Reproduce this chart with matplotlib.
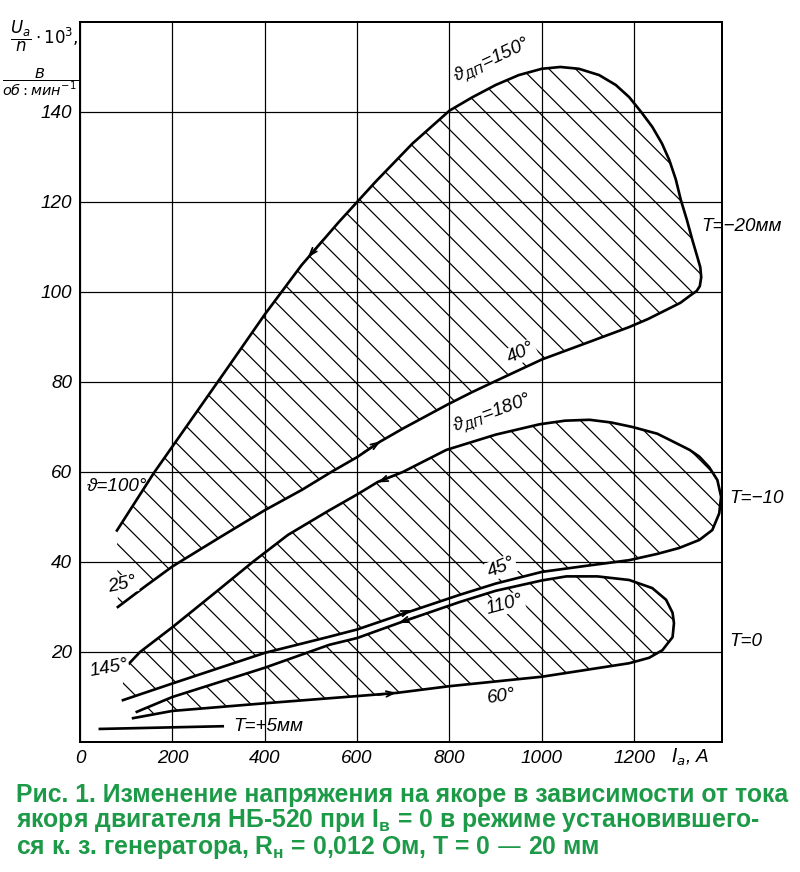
import matplotlib
matplotlib.use('Agg')
import matplotlib.pyplot as plt
from matplotlib import transforms

# кривые (I_a, A ; U_a/n*10^3)
# T = -20 мм: верхняя ветвь (ϑ=100°..150°), нос, нижняя ветвь (40°..25°)
loop20_x = [80, 160, 240, 320, 400, 480, 560, 640, 720, 800, 850, 900, 950, 1000,
            1040, 1080, 1124, 1160, 1189, 1215, 1239, 1260, 1276, 1290, 1301, 1314,
            1326, 1336, 1343, 1345, 1342, 1335, 1325, 1300, 1269, 1230, 1189, 1100,
            1000, 908, 850, 796, 700, 649, 600, 544, 480, 400, 300, 200, 140, 82]
loop20_y = [47, 59.8, 71.5, 83.2, 95, 106, 115.5, 124.5, 133, 140.3, 143.3, 146,
            148.2, 149.6, 150, 149.6, 148.2, 146, 143.3, 140, 136.7, 133, 129.3, 125,
            120.4, 116, 111.5, 108, 105.5, 103.3, 101.3, 100.2, 99.5, 97.6, 96, 94,
            92.2, 88.8, 85, 80.6, 77.8, 75, 69.7, 66.7, 63.3, 60, 56, 51.5, 45.3, 39,
            34.5, 30]
# T = -10: верхняя (180°..145°) и нижняя (45°) ветви
loop10_x = [93, 130, 200, 300, 374, 450, 540, 600, 645, 699, 793, 900, 995, 1050,
            1103, 1150, 1196, 1250, 1291, 1320, 1341, 1362, 1380, 1388, 1384, 1369,
            1341, 1297, 1250, 1189, 1100, 1000, 900, 822, 700, 600, 540, 400, 200, 93]
loop10_y = [16, 20, 25.5, 33.8, 40, 46, 51.5, 55, 57.8, 60, 64.9, 68.3, 70.6, 71.4,
            71.6, 71, 70, 68.5, 66.4, 64.9, 63.4, 61.1, 58.2, 54.5, 50.8, 47.1,
            44.9, 43.1, 41.8, 40.4, 39.2, 37.8, 35.2, 32.7, 28.5, 25, 23.4, 19.8, 13,
            9.3]
# T = 0: верхняя (110°) и нижняя (60°) ветви
loop0_x = [123, 200, 400, 540, 600, 700, 822, 900, 1000, 1053, 1120, 1189, 1239,
           1269, 1283, 1286, 1283, 1261, 1232, 1189, 1000, 800, 685, 600, 400, 200, 115]
loop0_y = [6.7, 10, 16.5, 21.6, 23.1, 26.8, 31.1, 33.6, 35.9, 36.8, 36.8, 36, 34.2,
           31.6, 28.7, 26.4, 23.3, 20.4, 18.7, 17.5, 14.5, 12.4, 10.9, 10.2, 8.6, 6.9,
           5.3]
# T = +5 мм
t5_x = [43, 309]
t5_y = [2.9, 3.5]

# стрелки: (x0, y0) -> (x1, y1)
arrows = [((530, 112), (490, 107.3)),
          ((610, 64.1), (655, 67.1)),
          ((690, 59.6), (640, 57.5)),
          ((680, 27.9), (722, 29.5)),
          ((730, 27.9), (685, 26.3)),
          ((640, 10.4), (690, 11.0))]

xticks = [0, 200, 400, 600, 800, 1000, 1200]
yticks = [20, 40, 60, 80, 100, 120, 140]

plt.rcParams['font.family'] = ['Liberation Sans', 'DejaVu Sans']
plt.rcParams['hatch.linewidth'] = 1.1

fig = plt.figure(figsize=(10, 10.9), dpi=80)
ax = fig.add_axes([0.1, 0.1491, 0.8025, 0.8257])
ax.set_xlim(0, 1390)
ax.set_ylim(0, 160)
ax.set_xticks(xticks)
ax.set_yticks(yticks)
ax.tick_params(length=0, labelsize=17, pad=7)
for t in ax.get_xticklabels() + ax.get_yticklabels():
    t.set_fontstyle('italic')
ax.grid(True, color='black', lw=1.1)
for s in ax.spines.values():
    s.set_linewidth(1.8)

for lx, ly in [(loop20_x, loop20_y), (loop10_x, loop10_y), (loop0_x, loop0_y)]:
    ax.fill(lx, ly, facecolor='none', edgecolor='black', hatch='\\', lw=0, zorder=2)
    ax.plot(lx, ly, color='black', lw=2.4, zorder=3, solid_joinstyle='round')
ax.plot(t5_x, t5_y, color='black', lw=2.4, zorder=3)

for (x0, y0), (x1, y1) in arrows:
    ax.annotate('', xy=(x1, y1), xytext=(x0, y0), zorder=4,
                arrowprops=dict(arrowstyle='->,head_length=0.7,head_width=0.25',
                                color='black', lw=1.6))

box = dict(facecolor='white', edgecolor='none', pad=1)
kw = dict(fontsize=17, fontstyle='italic', zorder=5)
ax.text(893, 151.5, 'ϑ$_{ДП}$=150°', rotation=25, ha='center', va='center', **kw)
ax.text(955, 86.5, '40°', rotation=25, ha='center', va='center', bbox=box, **kw)
ax.text(892, 73, 'ϑ$_{ДП}$=180°', rotation=20, ha='center', va='center', **kw)
ax.text(912, 38.8, '45°', rotation=22, ha='center', va='center', bbox=box, **kw)
ax.text(920, 30.5, '110°', rotation=15, ha='center', va='center', bbox=box, **kw)
ax.text(913, 10.0, '60°', rotation=8, ha='center', va='center', **kw)
ax.text(15, 56.7, 'ϑ=100°', ha='left', va='center', **kw)
ax.text(58, 35, '25°', rotation=12, ha='left', va='center', bbox=box, **kw)
ax.text(17, 16.4, '145°', rotation=10, ha='left', va='center', bbox=box, **kw)
ax.text(331, 3.4, 'T=+5мм', ha='left', va='center', **kw)
ax.text(1345, 114.5, 'T=−20мм', ha='left', va='center', clip_on=False, **kw)
ax.text(1405, 54.2, 'T=−10', ha='left', va='center', clip_on=False, **kw)
ax.text(1405, 22.4, 'T=0', ha='left', va='center', clip_on=False, **kw)

trx = transforms.blended_transform_factory(ax.transData, ax.transAxes)
ax.text(1320, -0.021, '$I_a$, A', transform=trx, ha='center', va='center',
        fontsize=17, fontstyle='italic')

fig.text(0.056, 0.958, r'$\dfrac{U_a}{n}\cdot 10^3,$', fontsize=15, ha='center',
         va='center')
fig.text(0.05, 0.906, r'$\dfrac{В}{об{:}мин^{-1}}$', fontsize=13, ha='center',
         va='center')

green = '#1d9a48'
cap = ['Рис. 1. Изменение напряжения на якоре в зависимости от тока',
       'якоря двигателя НБ-520 при I$_\\mathregular{в}$ = 0 в режиме установившего-',
       'ся к. з. генератора, R$_\\mathregular{н}$ = 0,012 Ом, T = 0 — 20 мм']
for i, line in enumerate(cap):
    fig.text(0.02, 0.0885 - i * 0.0300, line, color=green, fontsize=22.3,
             fontweight='bold', ha='left', va='center')

fig.savefig('out.png', dpi=80)
